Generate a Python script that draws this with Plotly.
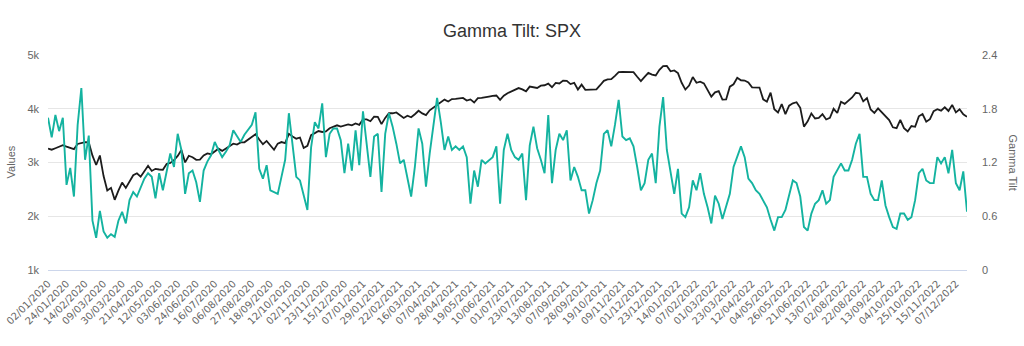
import plotly.graph_objects as go

# Tick labels of the category axis (one every 5 samples; one sample = 3 trading days)
tick_labels = [
    "02/01/2020", "24/01/2020", "14/02/2020", "09/03/2020", "30/03/2020", "21/04/2020",
    "12/05/2020", "03/06/2020", "24/06/2020", "16/07/2020", "06/08/2020", "27/08/2020",
    "18/09/2020", "12/10/2020", "02/11/2020", "23/11/2020", "15/12/2020", "07/01/2021",
    "29/01/2021", "22/02/2021", "16/03/2021", "07/04/2021", "28/04/2021", "19/05/2021",
    "10/06/2021", "01/07/2021", "23/07/2021", "13/08/2021", "07/09/2021", "28/09/2021",
    "19/10/2021", "09/11/2021", "01/12/2021", "23/12/2021", "14/01/2022", "07/02/2022",
    "01/03/2022", "23/03/2022", "12/04/2022", "04/05/2022", "26/05/2022", "21/06/2022",
    "13/07/2022", "02/08/2022", "22/08/2022", "13/09/2022", "04/10/2022", "25/10/2022",
    "15/11/2022", "07/12/2022",
]
samples_per_label = 5

# SPX (left axis, "Values")
spx = [
    3258, 3238, 3265, 3289, 3321, 3295, 3273, 3249, 3345, 3358,
    3380, 3373, 3128, 2954, 3130, 2747, 2481, 2529, 2305, 2476,
    2627, 2527, 2659, 2762, 2800, 2737, 2837, 2940, 2843, 2882,
    2870, 2864, 2972, 2992, 3044, 3123, 3232, 3002, 3125, 3098,
    3050, 3053, 3130, 3170, 3155, 3215, 3257, 3216, 3258, 3295,
    3349, 3333, 3373, 3375, 3431, 3484, 3527, 3427, 3339, 3401,
    3319, 3237, 3351, 3380, 3361, 3534, 3483, 3443, 3465, 3271,
    3310, 3510, 3546, 3585, 3568, 3578, 3638, 3669, 3692, 3668,
    3695, 3709, 3690, 3727, 3701, 3803, 3801, 3768, 3853, 3849,
    3714, 3830, 3916, 3916, 3932, 3876, 3829, 3870, 3841, 3898,
    3963, 3913, 3881, 3971, 4020, 4080, 4128, 4170, 4135, 4180,
    4183, 4192, 4201, 4152, 4174, 4116, 4197, 4201, 4208, 4226,
    4239, 4246, 4166, 4242, 4290, 4320, 4358, 4385, 4360, 4323,
    4412, 4400, 4387, 4430, 4437, 4468, 4400, 4480, 4470, 4523,
    4520, 4459, 4481, 4358, 4449, 4353, 4357, 4364, 4361, 4438,
    4520, 4545, 4551, 4613, 4680, 4685, 4682, 4688, 4682, 4595,
    4513, 4592, 4668, 4634, 4620, 4725, 4793, 4797, 4696, 4713,
    4663, 4483, 4357, 4432, 4589, 4484, 4504, 4471, 4349, 4225,
    4306, 4329, 4170, 4173, 4411, 4456, 4575, 4530, 4525, 4488,
    4397, 4391, 4394, 4175, 4132, 4300, 3991, 3930, 4088, 3901,
    4058, 4101, 4121, 4018, 3667, 3765, 3912, 3819, 3831, 3899,
    3801, 3831, 3999, 3921, 4130, 4091, 4145, 4210, 4297, 4284,
    4138, 4199, 3986, 3924, 4006, 3932, 3873, 3789, 3655, 3640,
    3791, 3640, 3577, 3678, 3665, 3859, 3901, 3759, 3807, 3956,
    3992, 3965, 4027, 3958, 4072, 3933, 3990, 3896, 3852,
]

# Gamma Tilt (right axis)
gamma_tilt = [
    1.70, 1.48, 1.73, 1.55, 1.70, 0.95, 1.14, 0.82, 1.62, 2.03,
    1.23, 1.50, 0.55, 0.36, 0.66, 0.43, 0.36, 0.40, 0.37, 0.55,
    0.65, 0.52, 0.78, 0.87, 0.82, 0.93, 1.02, 1.08, 1.04, 0.80,
    1.08, 0.89, 1.08, 1.30, 1.15, 1.52, 1.34, 0.85, 1.08, 1.11,
    0.98, 0.76, 1.11, 1.21, 1.28, 1.43, 1.34, 1.26, 1.32, 1.39,
    1.56, 1.49, 1.43, 1.51, 1.56, 1.62, 1.76, 1.13, 1.02, 1.17,
    0.89, 0.87, 0.85, 1.04, 1.23, 1.75, 1.37, 1.04, 1.00, 0.85,
    0.67, 1.37, 1.65, 1.58, 1.86, 1.26, 1.52, 1.58, 1.58, 1.45,
    1.08, 1.41, 1.11, 1.56, 1.17, 1.77, 1.41, 1.04, 1.49, 1.52,
    0.87, 1.52, 1.75, 1.60, 1.41, 1.19, 1.23, 1.04, 0.82, 1.15,
    1.58, 1.41, 0.93, 1.30, 1.64, 1.92, 1.65, 1.34, 1.49, 1.34,
    1.38, 1.34, 1.38, 1.26, 0.74, 1.11, 0.93, 1.23, 1.19, 1.23,
    1.26, 1.38, 0.74, 1.34, 1.52, 1.34, 1.26, 1.23, 1.30, 0.78,
    1.39, 1.60, 1.36, 1.23, 1.08, 1.73, 0.97, 1.34, 1.52, 1.45,
    1.56, 1.00, 1.15, 1.04, 0.89, 0.89, 0.63, 0.78, 0.97, 1.11,
    1.52, 1.56, 1.38, 1.62, 1.90, 1.49, 1.45, 1.47, 1.38, 1.15,
    0.89, 0.97, 1.23, 1.30, 0.97, 1.60, 1.93, 1.34, 1.11, 0.85,
    1.13, 0.63, 0.59, 0.70, 1.00, 0.89, 1.08, 0.85, 0.70, 0.52,
    0.83, 0.74, 0.57, 0.70, 0.85, 1.15, 1.26, 1.38, 1.26, 1.02,
    0.97, 0.89, 0.85, 0.78, 0.70, 0.56, 0.44, 0.59, 0.59, 0.67,
    0.82, 1.00, 0.97, 0.82, 0.48, 0.44, 0.63, 0.74, 0.78, 0.89,
    0.74, 0.78, 1.04, 1.11, 1.19, 1.11, 1.11, 1.23, 1.41, 1.52,
    1.04, 1.04, 0.85, 0.78, 0.78, 1.00, 0.72, 0.59, 0.48, 0.46,
    0.63, 0.63, 0.56, 0.59, 0.78, 1.08, 1.13, 1.00, 0.97, 0.97,
    1.26, 1.19, 1.26, 1.08, 1.34, 0.97, 0.89, 1.10, 0.65,
]

left_ticks = [1000, 2000, 3000, 4000, 5000]
left_tick_text = ["1k", "2k", "3k", "4k", "5k"]
right_ticks = [0, 0.6, 1.2, 1.8, 2.4]
right_tick_text = ["0", "0.6", "1.2", "1.8", "2.4"]

FONT = "Liberation Sans, Arial, sans-serif"
LABEL_FONT = "DejaVu Sans, Verdana, sans-serif"
GREY = "#666666"

fig = go.Figure()
fig.add_trace(go.Scatter(y=spx, mode="lines", name="SPX",
                         line=dict(color="#1c1c1c", width=1.8), yaxis="y"))
fig.add_trace(go.Scatter(y=gamma_tilt, mode="lines", name="Gamma Tilt",
                         line=dict(color="#14b3a0", width=1.9), yaxis="y2"))

tickvals = [i * samples_per_label for i in range(len(tick_labels))]

fig.update_layout(
    width=1024, height=346,
    margin=dict(l=48, r=57, t=55, b=76, autoexpand=False),
    paper_bgcolor="white", plot_bgcolor="white",
    showlegend=False,
    font=dict(family=FONT, color=GREY, size=11),
    title=dict(text="Gamma Tilt: SPX", x=0.5, xanchor="center", y=1 - 31 / 346,
               yanchor="middle", font=dict(family=FONT, size=18, color="#333333")),
    xaxis=dict(range=[0, len(spx) - 1], tickmode="array", tickvals=tickvals,
               ticktext=tick_labels, tickangle=-45, showgrid=False, zeroline=False,
               showline=True, linecolor="#ccd6eb", linewidth=1, ticks="",
               ticklabelstandoff=3,
               tickfont=dict(size=10, color=GREY, family=LABEL_FONT)),
    yaxis=dict(range=[1000, 5000], tickmode="array", tickvals=left_ticks,
               ticktext=left_tick_text, showgrid=True, gridcolor="#e6e6e6",
               gridwidth=1, zeroline=False, ticks="", ticklabelstandoff=8,
               tickfont=dict(size=11, color=GREY, family=FONT)),
    yaxis2=dict(range=[0, 2.4], overlaying="y", side="right", tickmode="array",
                tickvals=right_ticks, ticktext=right_tick_text, showgrid=False,
                zeroline=False, ticks="", ticklabelstandoff=14,
                tickfont=dict(size=11, color=GREY, family=FONT)),
    annotations=[
        dict(text="Values", xref="paper", yref="paper", x=-38 / 919, y=0.5,
             xanchor="center", yanchor="middle", textangle=-90, showarrow=False,
             font=dict(size=11, color=GREY, family=FONT)),
        dict(text="Gamma Tilt", xref="paper", yref="paper", x=1 + 46 / 919, y=0.5,
             xanchor="center", yanchor="middle", textangle=90, showarrow=False,
             font=dict(size=11, color=GREY, family=FONT)),
    ],
)

fig.write_html("out.html")
